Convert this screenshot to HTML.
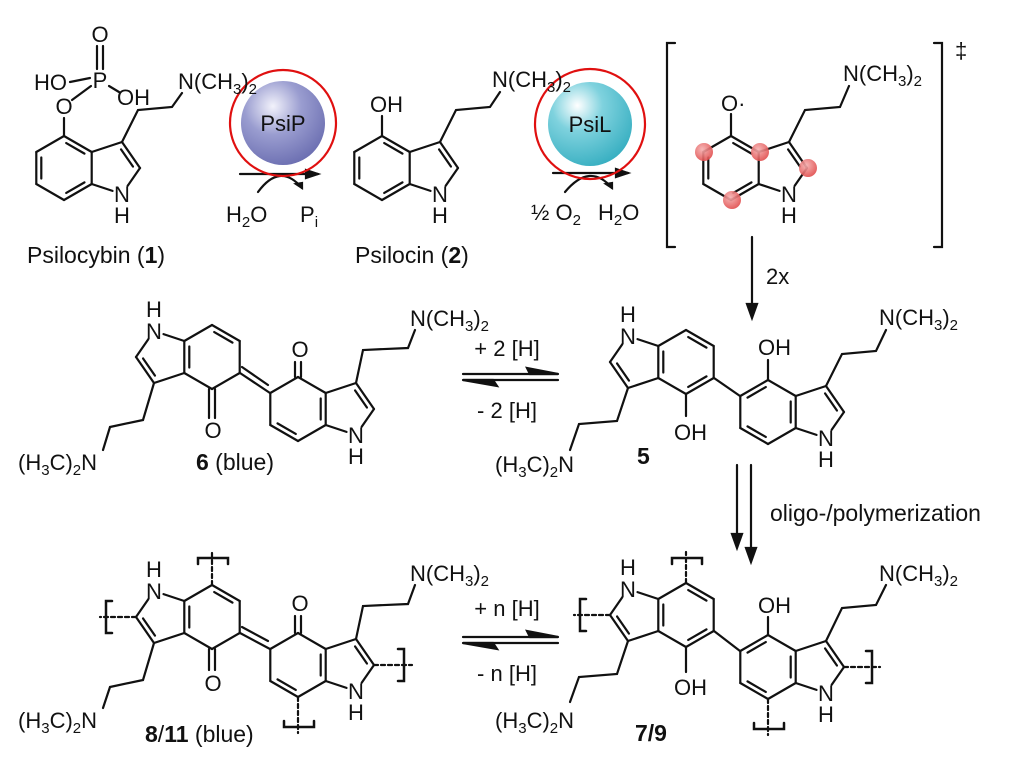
<!DOCTYPE html>
<html><head><meta charset="utf-8">
<style>
html,body{margin:0;padding:0;background:#fff;}
svg{display:block;}
text{font-family:"Liberation Sans",sans-serif;fill:#111;}
.a{font-size:22px;}
.c{font-size:23px;}
</style></head>
<body>
<svg id="s" width="1015" height="767" viewBox="0 0 1015 767" xmlns="http://www.w3.org/2000/svg">
<defs>
<radialGradient id="gb" cx="0.38" cy="0.3" r="0.75">
<stop offset="0" stop-color="#f2f2fb"/><stop offset="0.45" stop-color="#9a9dd0"/><stop offset="1" stop-color="#6a6db0"/>
</radialGradient>
<radialGradient id="gc" cx="0.35" cy="0.28" r="0.75">
<stop offset="0" stop-color="#ffffff"/><stop offset="0.4" stop-color="#7fd2de"/><stop offset="1" stop-color="#3ab0c2"/>
</radialGradient>
<radialGradient id="gr" cx="0.4" cy="0.35" r="0.7">
<stop offset="0" stop-color="#f6b0b0"/><stop offset="1" stop-color="#e04848"/>
</radialGradient>
</defs>
<g id="bonds" stroke="#111" stroke-width="2.2" fill="none" stroke-linecap="round"></g>

<circle cx="283" cy="123" r="42" fill="url(#gb)"/>
<circle cx="283" cy="123" r="53" fill="none" stroke="#e01010" stroke-width="2.2"/>
<text x="283" y="131" class="a" text-anchor="middle">PsiP</text>
<circle cx="590" cy="124" r="42" fill="url(#gc)"/>
<circle cx="590" cy="124" r="55" fill="none" stroke="#e01010" stroke-width="2.2"/>
<text x="590" y="132" class="a" text-anchor="middle">PsiL</text>

<g fill="url(#gr)" opacity="0.9">
<circle cx="704" cy="152" r="9"/><circle cx="760" cy="152" r="9"/><circle cx="808" cy="168" r="9"/><circle cx="732" cy="200" r="9"/>
</g>

<text x="100" y="42" class="a" text-anchor="middle">O</text>
<text x="100" y="88" class="a" text-anchor="middle">P</text>
<text x="34" y="90" class="a">HO</text>
<text x="117" y="105" class="a">OH</text>
<text x="64" y="114" class="a" text-anchor="middle">O</text>
<text x="122" y="202" class="a" text-anchor="middle">N</text>
<text x="122" y="223" class="a" text-anchor="middle">H</text>
<text x="178" y="89" class="a">N(CH<tspan font-size="15" dy="5">3</tspan><tspan dy="-5">)</tspan><tspan font-size="15" dy="5">2</tspan></text>
<text x="27" y="263" class="c">Psilocybin (<tspan font-weight="bold">1</tspan>)</text>

<text x="370" y="112" class="a">OH</text>
<text x="440" y="202" class="a" text-anchor="middle">N</text>
<text x="440" y="223" class="a" text-anchor="middle">H</text>
<text x="492" y="87" class="a">N(CH<tspan font-size="15" dy="5">3</tspan><tspan dy="-5">)</tspan><tspan font-size="15" dy="5">2</tspan></text>
<text x="355" y="263" class="c">Psilocin (<tspan font-weight="bold">2</tspan>)</text>

<text x="226" y="222" class="a">H<tspan font-size="15" dy="5">2</tspan><tspan dy="-5">O</tspan></text>
<text x="300" y="222" class="a">P<tspan font-size="15" dy="5">i</tspan></text>
<text x="531" y="220" class="a">½ O<tspan font-size="15" dy="5">2</tspan></text>
<text x="598" y="220" class="a">H<tspan font-size="15" dy="5">2</tspan><tspan dy="-5">O</tspan></text>

<text x="721" y="111" class="a">O·</text>
<text x="789" y="202" class="a" text-anchor="middle">N</text>
<text x="789" y="223" class="a" text-anchor="middle">H</text>
<text x="843" y="81" class="a">N(CH<tspan font-size="15" dy="5">3</tspan><tspan dy="-5">)</tspan><tspan font-size="15" dy="5">2</tspan></text>
<text x="955" y="58" class="a">‡</text>
<text x="766" y="284" class="a">2x</text>

<text x="154" y="339" class="a" text-anchor="middle">N</text>
<text x="154" y="317" class="a" text-anchor="middle">H</text>
<text x="213" y="438" class="a" text-anchor="middle">O</text>
<text x="300" y="357" class="a" text-anchor="middle">O</text>
<text x="356" y="443" class="a" text-anchor="middle">N</text>
<text x="356" y="464" class="a" text-anchor="middle">H</text>
<text x="410" y="326" class="a">N(CH<tspan font-size="15" dy="5">3</tspan><tspan dy="-5">)</tspan><tspan font-size="15" dy="5">2</tspan></text>
<text x="18" y="470" class="a">(H<tspan font-size="15" dy="5">3</tspan><tspan dy="-5">C)</tspan><tspan font-size="15" dy="5">2</tspan><tspan dy="-5">N</tspan></text>
<text x="196" y="470" class="c"><tspan font-weight="bold">6</tspan> (blue)</text>

<text x="507" y="356" class="a" text-anchor="middle">+ 2 [H]</text>
<text x="507" y="418" class="a" text-anchor="middle">- 2 [H]</text>

<text x="628" y="344" class="a" text-anchor="middle">N</text>
<text x="628" y="322" class="a" text-anchor="middle">H</text>
<text x="674" y="440" class="a">OH</text>
<text x="758" y="355" class="a">OH</text>
<text x="826" y="446" class="a" text-anchor="middle">N</text>
<text x="826" y="467" class="a" text-anchor="middle">H</text>
<text x="879" y="325" class="a">N(CH<tspan font-size="15" dy="5">3</tspan><tspan dy="-5">)</tspan><tspan font-size="15" dy="5">2</tspan></text>
<text x="495" y="472" class="a">(H<tspan font-size="15" dy="5">3</tspan><tspan dy="-5">C)</tspan><tspan font-size="15" dy="5">2</tspan><tspan dy="-5">N</tspan></text>
<text x="637" y="464" class="c" font-weight="bold">5</text>
<text x="770" y="521" class="c">oligo-/polymerization</text>

<text x="154" y="599" class="a" text-anchor="middle">N</text>
<text x="154" y="577" class="a" text-anchor="middle">H</text>
<text x="213" y="691" class="a" text-anchor="middle">O</text>
<text x="300" y="611" class="a" text-anchor="middle">O</text>
<text x="356" y="699" class="a" text-anchor="middle">N</text>
<text x="356" y="720" class="a" text-anchor="middle">H</text>
<text x="410" y="581" class="a">N(CH<tspan font-size="15" dy="5">3</tspan><tspan dy="-5">)</tspan><tspan font-size="15" dy="5">2</tspan></text>
<text x="18" y="728" class="a">(H<tspan font-size="15" dy="5">3</tspan><tspan dy="-5">C)</tspan><tspan font-size="15" dy="5">2</tspan><tspan dy="-5">N</tspan></text>
<text x="145" y="742" class="c"><tspan font-weight="bold">8</tspan>/<tspan font-weight="bold">11</tspan> (blue)</text>

<text x="507" y="616" class="a" text-anchor="middle">+ n [H]</text>
<text x="507" y="681" class="a" text-anchor="middle">- n [H]</text>

<text x="628" y="597" class="a" text-anchor="middle">N</text>
<text x="628" y="575" class="a" text-anchor="middle">H</text>
<text x="674" y="695" class="a">OH</text>
<text x="758" y="613" class="a">OH</text>
<text x="826" y="701" class="a" text-anchor="middle">N</text>
<text x="826" y="722" class="a" text-anchor="middle">H</text>
<text x="879" y="581" class="a">N(CH<tspan font-size="15" dy="5">3</tspan><tspan dy="-5">)</tspan><tspan font-size="15" dy="5">2</tspan></text>
<text x="495" y="728" class="a">(H<tspan font-size="15" dy="5">3</tspan><tspan dy="-5">C)</tspan><tspan font-size="15" dy="5">2</tspan><tspan dy="-5">N</tspan></text>
<text x="635" y="741" class="c" font-weight="bold">7/9</text>
</svg>
<script>
(function(){
var g=document.getElementById('bonds'),out='';
function L(a,b,c,d,ex){out+='<line x1="'+a+'" y1="'+b+'" x2="'+c+'" y2="'+d+'"'+(ex||'')+'/>';}
function P(d,ex){out+='<path d="'+d+'"'+(ex||'')+'/>';}
var loc={T:[0,-32],UR:[27.7,-16],LR:[27.7,16],B:[0,32],LL:[-27.7,16],UL:[-27.7,-16],C3:[58,-26],C2:[76,0],N:[58,26]};
function indole(cx,cy,rot,dbl){
  function t(k){var p=loc[k];return rot?[cx-p[0],cy-p[1]]:[cx+p[0],cy+p[1]];}
  function seg(a,b,s1,s2){var A=t(a),B=t(b),dx=B[0]-A[0],dy=B[1]-A[1],l=Math.hypot(dx,dy);
    L(A[0]+dx*s1/l,A[1]+dy*s1/l,B[0]-dx*s2/l,B[1]-dy*s2/l);}
  var ring=['T','UR','LR','B','LL','UL','T'];
  for(var i=0;i<6;i++)seg(ring[i],ring[i+1],0,0);
  seg('UR','C3',0,0);seg('C3','C2',0,0);seg('C2','N',0,10);seg('N','LR',10,0);
  var bc=[cx,cy],pc=(function(){var ks=['UR','LR','N','C2','C3'],x=0,y=0;ks.forEach(function(k){var p=t(k);x+=p[0];y+=p[1];});return[x/5,y/5];})();
  dbl.forEach(function(e){var A=t(e[0]),B=t(e[1]),c=(e[0]=='C3'||e[1]=='C3')?pc:bc;
    var mx=(A[0]+B[0])/2,my=(A[1]+B[1])/2,dx=c[0]-mx,dy=c[1]-my,l=Math.hypot(dx,dy),o=5;
    var ox=dx/l*o,oy=dy/l*o,sx=(B[0]-A[0])*0.17,sy=(B[1]-A[1])*0.17;
    L(A[0]+ox+sx,A[1]+oy+sy,B[0]+ox-sx,B[1]+oy-sy);});
}
var mono=[['UL','LL'],['LR','B'],['T','UR'],['C3','C2']];
var dim=[['T','UL'],['UR','LR'],['B','LL'],['C3','C2']];
var quin=[['UR','LR'],['B','LL'],['C3','C2']];
indole(64,168,0,mono);indole(382,168,0,mono);indole(731,168,0,mono);
indole(686,362,1,dim);indole(768,412,0,dim);
indole(212,357,1,quin);indole(298,409,0,quin);
indole(212,617,1,quin);indole(298,665,0,quin);
indole(686,615,1,dim);indole(768,667,0,dim);
L(64,136,64,118);L(72,100,91,86);L(97,46,97,69);L(103,46,103,69);L(90,78,70,82);L(109,86,119,92);
P('M122,142 L138,110 L172,107 L182,93');
L(382,136,382,116);P('M440,142 L456,110 L490,107 L500,92');
L(731,136,731,114);P('M789,142 L805,110 L840,107 L849,86');
P('M675,43 L667,43 L667,247 L675,247');P('M934,43 L942,43 L942,247 L934,247');
L(240,174,318,174);P('M318,174 l-12,-4 l0,8 z',' fill="#111"');
P('M258,192 Q280,162 302,188');P('M302,188 l-6,-4 l6,-1 z',' fill="#111"');
L(553,173,628,173);P('M628,173 l-12,-4 l0,8 z',' fill="#111"');
P('M565,192 Q590,162 612,188');P('M612,188 l-6,-4 l6,-1 z',' fill="#111"');
L(752,237,752,305);P('M752,318 l-5,-14 l10,0 z',' fill="#111"');
L(686,394,686,416);P('M628,388 L617,421 L579,424 L570,450');
L(768,380,768,360);P('M826,386 L842,354 L876,351 L886,330');
L(714,378,740,396);
L(209,389,209,418);L(215,389,215,418);
L(240,373,270,393);L(242,367,268,385);
L(295,377,295,362);L(301,377,301,362);
P('M154,383 L143,420 L110,427 L103,450');P('M356,383 L363,350 L408,348 L415,330');
function eq(y){L(463,y-3,558,y-3);P('M558,'+(y-3)+' L527,'+(y-9)+' L530,'+(y-3)+' z',' fill="#111"');
 L(463,y+3,558,y+3);P('M463,'+(y+3)+' L497,'+(y+9)+' L493,'+(y+3)+' z',' fill="#111"');}
eq(377);eq(640);
L(737,465,737,535);P('M737,548 l-5,-14 l10,0 z',' fill="#111"');
L(751,465,751,549);P('M751,562 l-5,-14 l10,0 z',' fill="#111"');
L(209,649,209,670);L(215,649,215,670);
L(240,633,270,649);L(242,627,268,641);
L(295,633,295,616);L(301,633,301,616);
P('M154,643 L143,680 L110,687 L103,708');P('M356,639 L363,606 L408,604 L415,585');
var da=' stroke-dasharray="4,3"';
L(212,585,212,552,da);P('M198,564 L198,558 L228,558 L228,564',' stroke-width="2.5"');
L(136,617,100,617,da);P('M112,601 L106,601 L106,633 L112,633',' stroke-width="2.5"');
L(374,665,412,665,da);P('M398,649 L404,649 L404,681 L398,681',' stroke-width="2.5"');
L(298,697,298,733,da);P('M284,721 L284,727 L314,727 L314,721',' stroke-width="2.5"');
L(686,647,686,672);P('M628,641 L617,674 L579,677 L570,702');
L(768,635,768,617);P('M826,641 L842,608 L876,605 L886,585');
L(714,631,740,651);
L(686,583,686,552,da);P('M672,564 L672,558 L702,558 L702,564',' stroke-width="2.5"');
L(610,615,574,615,da);P('M586,599 L580,599 L580,631 L586,631',' stroke-width="2.5"');
L(844,667,880,667,da);P('M866,651 L872,651 L872,683 L866,683',' stroke-width="2.5"');
L(768,699,768,735,da);P('M754,723 L754,729 L784,729 L784,723',' stroke-width="2.5"');
g.innerHTML=out;
})();
</script>
</body></html>
